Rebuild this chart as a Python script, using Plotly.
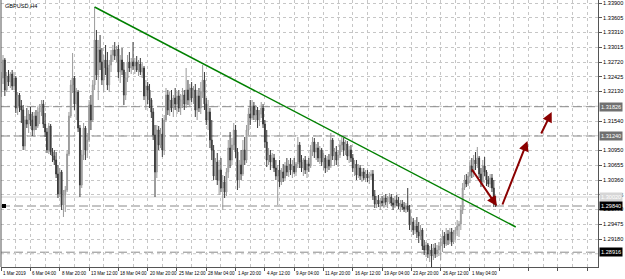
import pandas as pd
import plotly.graph_objects as go

SYMBOL = "GBPUSD,H4"

OPEN = [
 1.3212, 1.3240, 1.3276, 1.3216, 1.3244, 1.3232, 1.3248, 1.3224, 1.3240, 1.3180,
 1.3206, 1.3184, 1.3176, 1.3104, 1.3156, 1.3148, 1.3168, 1.3156, 1.3136, 1.3164,
 1.3144, 1.3172, 1.3180, 1.3188, 1.3148, 1.3132, 1.3096, 1.3144, 1.3092, 1.3084,
 1.3076, 1.3048, 1.3008, 1.3052, 1.2986, 1.3006, 1.3016, 1.3088, 1.3164, 1.3226,
 1.3240, 1.3188, 1.3212, 1.3140, 1.3026, 1.3086, 1.3140, 1.3096, 1.3116, 1.3186,
 1.3156, 1.3226, 1.3316, 1.3246, 1.3296, 1.3272, 1.3236, 1.3276, 1.3260, 1.3226,
 1.3266, 1.3286, 1.3296, 1.3284, 1.3298, 1.3252, 1.3276, 1.3256, 1.3206, 1.3240,
 1.3272, 1.3260, 1.3272, 1.3264, 1.3272, 1.3256, 1.3268, 1.3252, 1.3260, 1.3204,
 1.3224, 1.3216, 1.3196, 1.3172, 1.3126, 1.3052, 1.3136, 1.3106, 1.3128, 1.3096,
 1.3156, 1.3206, 1.3176, 1.3196, 1.3180, 1.3200, 1.3188, 1.3204, 1.3180, 1.3196,
 1.3206, 1.3188, 1.3216, 1.3196, 1.3220, 1.3200, 1.3216, 1.3176, 1.3204, 1.3180,
 1.3212, 1.3236, 1.3188, 1.3156, 1.3172, 1.3116, 1.3096, 1.3044, 1.3072, 1.3036,
 1.3056, 1.3020, 1.3032, 1.3012, 1.3052, 1.3100, 1.3076, 1.3106, 1.3136, 1.3092,
 1.3036, 1.3066, 1.3048, 1.3096, 1.3076, 1.3136, 1.3168, 1.3160, 1.3184, 1.3166,
 1.3176, 1.3156, 1.3168, 1.3180, 1.3148, 1.3112, 1.3076, 1.3086, 1.3072, 1.3080,
 1.3060, 1.3044, 1.3056, 1.3032, 1.3052, 1.3040, 1.3064, 1.3052, 1.3068, 1.3056,
 1.3064, 1.3052, 1.3068, 1.3106, 1.3072, 1.3060, 1.3076, 1.3056, 1.3068, 1.3064,
 1.3096, 1.3112, 1.3092, 1.3100, 1.3080, 1.3096, 1.3072, 1.3080, 1.3060, 1.3076,
 1.3064, 1.3116, 1.3084, 1.3092, 1.3076, 1.3086, 1.3106, 1.3112, 1.3096, 1.3108,
 1.3084, 1.3096, 1.3080, 1.3060, 1.3068, 1.3046, 1.3060, 1.3044, 1.3052, 1.3040,
 1.3048, 1.3040, 1.3044, 1.3048, 1.3004, 1.2988, 1.2996, 1.2988, 1.2994, 1.2990,
 1.3000, 1.2992, 1.2998, 1.3002, 1.2990, 1.2986, 1.2996, 1.2990, 1.2984, 1.2988,
 1.2982, 1.2978, 1.2984, 1.2976, 1.2946, 1.2952, 1.2936, 1.2944, 1.2932, 1.2924,
 1.2936, 1.2904, 1.2896, 1.2906, 1.2888, 1.2896, 1.2884, 1.2900, 1.2888, 1.2896,
 1.2904, 1.2912, 1.2924, 1.2908, 1.2928, 1.2916, 1.2932, 1.2912, 1.2928, 1.2936,
 1.2944, 1.2948, 1.2976, 1.3020, 1.3036, 1.3028, 1.3044, 1.3064, 1.3052, 1.3076,
 1.3068, 1.3080, 1.3048, 1.3032, 1.3064, 1.3052, 1.3036, 1.3028, 1.3040, 1.3020, 1.2988,
]

HIGH = [
 1.3252, 1.3286, 1.3280, 1.3252, 1.3256, 1.3252, 1.3256, 1.3252, 1.3244, 1.3212,
 1.3210, 1.3196, 1.3186, 1.3164, 1.3180, 1.3176, 1.3182, 1.3172, 1.3172, 1.3176,
 1.3182, 1.3188, 1.3196, 1.3196, 1.3170, 1.3140, 1.3150, 1.3148, 1.3100, 1.3096,
 1.3092, 1.3066, 1.3060, 1.3056, 1.3016, 1.3024, 1.3096, 1.3172, 1.3236, 1.3290,
 1.3244, 1.3220, 1.3216, 1.3146, 1.3096, 1.3150, 1.3144, 1.3130, 1.3196, 1.3206,
 1.3236, 1.3382, 1.3336, 1.3316, 1.3326, 1.3300, 1.3286, 1.3306, 1.3292, 1.3276,
 1.3296, 1.3306, 1.3312, 1.3304, 1.3306, 1.3286, 1.3300, 1.3272, 1.3252, 1.3286,
 1.3292, 1.3280, 1.3312, 1.3280, 1.3284, 1.3276, 1.3280, 1.3272, 1.3264, 1.3236,
 1.3232, 1.3228, 1.3200, 1.3180, 1.3146, 1.3146, 1.3144, 1.3140, 1.3160, 1.3166,
 1.3220, 1.3216, 1.3212, 1.3216, 1.3206, 1.3220, 1.3212, 1.3216, 1.3208, 1.3220,
 1.3216, 1.3260, 1.3236, 1.3228, 1.3232, 1.3224, 1.3228, 1.3216, 1.3220, 1.3232,
 1.3266, 1.3252, 1.3200, 1.3196, 1.3180, 1.3156, 1.3106, 1.3080, 1.3090, 1.3076,
 1.3080, 1.3046, 1.3044, 1.3060, 1.3116, 1.3132, 1.3120, 1.3150, 1.3146, 1.3100,
 1.3076, 1.3096, 1.3116, 1.3122, 1.3146, 1.3180, 1.3196, 1.3196, 1.3192, 1.3186,
 1.3182, 1.3176, 1.3192, 1.3188, 1.3156, 1.3136, 1.3100, 1.3096, 1.3090, 1.3088,
 1.3076, 1.3066, 1.3076, 1.3060, 1.3068, 1.3072, 1.3080, 1.3076, 1.3080, 1.3076,
 1.3080, 1.3072, 1.3122, 1.3112, 1.3086, 1.3080, 1.3084, 1.3076, 1.3080, 1.3106,
 1.3122, 1.3120, 1.3108, 1.3112, 1.3104, 1.3100, 1.3090, 1.3086, 1.3084, 1.3088,
 1.3130, 1.3120, 1.3100, 1.3104, 1.3096, 1.3116, 1.3122, 1.3120, 1.3116, 1.3114,
 1.3104, 1.3106, 1.3088, 1.3076, 1.3076, 1.3068, 1.3066, 1.3060, 1.3060, 1.3056,
 1.3056, 1.3052, 1.3056, 1.3056, 1.3016, 1.3004, 1.3006, 1.3000, 1.3004, 1.3006,
 1.3008, 1.3004, 1.3010, 1.3008, 1.3000, 1.3004, 1.3006, 1.3002, 1.2996, 1.2996,
 1.2992, 1.2990, 1.3020, 1.2986, 1.2962, 1.2960, 1.2956, 1.2962, 1.2952, 1.2946,
 1.2940, 1.2916, 1.2912, 1.2910, 1.2904, 1.2908, 1.2908, 1.2910, 1.2906, 1.2912,
 1.2920, 1.2936, 1.2932, 1.2940, 1.2936, 1.2940, 1.2940, 1.2936, 1.2942, 1.2956,
 1.2954, 1.2986, 1.3030, 1.3046, 1.3048, 1.3052, 1.3076, 1.3080, 1.3086, 1.3092,
 1.3102, 1.3084, 1.3060, 1.3076, 1.3082, 1.3056, 1.3044, 1.3048, 1.3048, 1.3036, 1.3004,
]

LOW = [
 1.3202, 1.3228, 1.3204, 1.3212, 1.3224, 1.3220, 1.3216, 1.3216, 1.3170, 1.3166,
 1.3172, 1.3150, 1.3096, 1.3096, 1.3140, 1.3130, 1.3144, 1.3124, 1.3122, 1.3136,
 1.3140, 1.3148, 1.3164, 1.3140, 1.3122, 1.3090, 1.3088, 1.3086, 1.3072, 1.3066,
 1.3040, 1.3000, 1.3002, 1.2976, 1.2962, 1.2972, 1.3012, 1.3084, 1.3160, 1.3210,
 1.3176, 1.3156, 1.3132, 1.3002, 1.3020, 1.3076, 1.3076, 1.3080, 1.3112, 1.3136,
 1.3152, 1.3216, 1.3236, 1.3196, 1.3256, 1.3226, 1.3212, 1.3246, 1.3216, 1.3212,
 1.3252, 1.3272, 1.3276, 1.3272, 1.3240, 1.3230, 1.3246, 1.3186, 1.3196, 1.3232,
 1.3252, 1.3248, 1.3256, 1.3248, 1.3252, 1.3244, 1.3246, 1.3240, 1.3196, 1.3176,
 1.3188, 1.3180, 1.3160, 1.3116, 1.3002, 1.3040, 1.3096, 1.3100, 1.3082, 1.3086,
 1.3152, 1.3166, 1.3164, 1.3172, 1.3162, 1.3176, 1.3168, 1.3172, 1.3166, 1.3180,
 1.3176, 1.3180, 1.3186, 1.3184, 1.3192, 1.3188, 1.3162, 1.3156, 1.3172, 1.3168,
 1.3200, 1.3176, 1.3146, 1.3136, 1.3100, 1.3076, 1.3036, 1.3036, 1.3026, 1.3006,
 1.3012, 1.2976, 1.3000, 1.3004, 1.3040, 1.3060, 1.3066, 1.3096, 1.3080, 1.3016,
 1.3020, 1.3036, 1.3044, 1.3066, 1.3070, 1.3126, 1.3146, 1.3156, 1.3156, 1.3152,
 1.3140, 1.3144, 1.3160, 1.3140, 1.3100, 1.3062, 1.3066, 1.3056, 1.3060, 1.3052,
 1.3036, 1.2986, 1.3022, 1.3026, 1.3032, 1.3036, 1.3044, 1.3042, 1.3046, 1.3040,
 1.3048, 1.3044, 1.3060, 1.3060, 1.3052, 1.3044, 1.3048, 1.3040, 1.3052, 1.3060,
 1.3084, 1.3080, 1.3076, 1.3072, 1.3068, 1.3064, 1.3056, 1.3050, 1.3052, 1.3056,
 1.3060, 1.3076, 1.3064, 1.3066, 1.3062, 1.3080, 1.3092, 1.3084, 1.3086, 1.3076,
 1.3070, 1.3072, 1.3052, 1.3044, 1.3036, 1.3040, 1.3036, 1.3032, 1.3036, 1.3032,
 1.3032, 1.3028, 1.3036, 1.2996, 1.2980, 1.2980, 1.2982, 1.2976, 1.2984, 1.2980,
 1.2986, 1.2980, 1.2988, 1.2984, 1.2976, 1.2980, 1.2984, 1.2978, 1.2972, 1.2976,
 1.2972, 1.2970, 1.2972, 1.2936, 1.2932, 1.2926, 1.2928, 1.2920, 1.2910, 1.2916,
 1.2896, 1.2886, 1.2882, 1.2880, 1.2872, 1.2862, 1.2876, 1.2880, 1.2882, 1.2884,
 1.2876, 1.2892, 1.2900, 1.2904, 1.2906, 1.2908, 1.2904, 1.2908, 1.2916, 1.2924,
 1.2922, 1.2936, 1.2968, 1.3016, 1.3022, 1.3024, 1.3030, 1.3040, 1.3042, 1.3056,
 1.3060, 1.3040, 1.3022, 1.3028, 1.3044, 1.3024, 1.3022, 1.3020, 1.3012, 1.2982, 1.2982,
]

CLOSE = [
 1.3240, 1.3276, 1.3216, 1.3244, 1.3232, 1.3248, 1.3224, 1.3240, 1.3180, 1.3206,
 1.3184, 1.3176, 1.3104, 1.3156, 1.3148, 1.3168, 1.3156, 1.3136, 1.3164, 1.3144,
 1.3172, 1.3180, 1.3188, 1.3148, 1.3132, 1.3096, 1.3144, 1.3092, 1.3084, 1.3076,
 1.3048, 1.3008, 1.3052, 1.2986, 1.3006, 1.3016, 1.3088, 1.3164, 1.3226, 1.3240,
 1.3188, 1.3212, 1.3140, 1.3026, 1.3086, 1.3140, 1.3096, 1.3116, 1.3186, 1.3156,
 1.3226, 1.3316, 1.3246, 1.3296, 1.3272, 1.3236, 1.3276, 1.3260, 1.3226, 1.3266,
 1.3286, 1.3296, 1.3284, 1.3298, 1.3252, 1.3276, 1.3256, 1.3206, 1.3240, 1.3272,
 1.3260, 1.3272, 1.3264, 1.3272, 1.3256, 1.3268, 1.3252, 1.3260, 1.3204, 1.3224,
 1.3216, 1.3196, 1.3172, 1.3126, 1.3052, 1.3136, 1.3106, 1.3128, 1.3096, 1.3156,
 1.3206, 1.3176, 1.3196, 1.3180, 1.3200, 1.3188, 1.3204, 1.3180, 1.3196, 1.3206,
 1.3188, 1.3216, 1.3196, 1.3220, 1.3200, 1.3216, 1.3176, 1.3204, 1.3180, 1.3212,
 1.3236, 1.3188, 1.3156, 1.3172, 1.3116, 1.3096, 1.3044, 1.3072, 1.3036, 1.3056,
 1.3020, 1.3032, 1.3012, 1.3052, 1.3100, 1.3076, 1.3106, 1.3136, 1.3092, 1.3036,
 1.3066, 1.3048, 1.3096, 1.3076, 1.3136, 1.3168, 1.3160, 1.3184, 1.3166, 1.3176,
 1.3156, 1.3168, 1.3180, 1.3148, 1.3112, 1.3076, 1.3086, 1.3072, 1.3080, 1.3060,
 1.3044, 1.3056, 1.3032, 1.3052, 1.3040, 1.3064, 1.3052, 1.3068, 1.3056, 1.3064,
 1.3052, 1.3068, 1.3106, 1.3072, 1.3060, 1.3076, 1.3056, 1.3068, 1.3064, 1.3096,
 1.3112, 1.3092, 1.3100, 1.3080, 1.3096, 1.3072, 1.3080, 1.3060, 1.3076, 1.3064,
 1.3116, 1.3084, 1.3092, 1.3076, 1.3086, 1.3106, 1.3112, 1.3096, 1.3108, 1.3084,
 1.3096, 1.3080, 1.3060, 1.3068, 1.3046, 1.3060, 1.3044, 1.3052, 1.3040, 1.3048,
 1.3040, 1.3044, 1.3048, 1.3004, 1.2988, 1.2996, 1.2988, 1.2994, 1.2990, 1.3000,
 1.2992, 1.2998, 1.3002, 1.2990, 1.2986, 1.2996, 1.2990, 1.2984, 1.2988, 1.2982,
 1.2978, 1.2984, 1.2976, 1.2946, 1.2952, 1.2936, 1.2944, 1.2932, 1.2924, 1.2936,
 1.2904, 1.2896, 1.2906, 1.2888, 1.2896, 1.2884, 1.2900, 1.2888, 1.2896, 1.2904,
 1.2912, 1.2924, 1.2908, 1.2928, 1.2916, 1.2932, 1.2912, 1.2928, 1.2936, 1.2944,
 1.2948, 1.2976, 1.3020, 1.3036, 1.3028, 1.3044, 1.3064, 1.3052, 1.3076, 1.3068,
 1.3080, 1.3048, 1.3032, 1.3064, 1.3052, 1.3036, 1.3028, 1.3040, 1.3020, 1.2988, 1.2986,
]

TICK_TIMES = [
    "2019-03-01 12:00", "2019-03-06 04:00", "2019-03-08 20:00", "2019-03-13 12:00",
    "2019-03-18 04:00", "2019-03-20 20:00", "2019-03-25 12:00", "2019-03-28 04:00",
    "2019-04-01 20:00", "2019-04-04 12:00", "2019-04-09 04:00", "2019-04-11 20:00",
    "2019-04-16 12:00", "2019-04-19 04:00", "2019-04-23 20:00", "2019-04-26 12:00",
    "2019-05-01 04:00",
]
TICK_LABELS = [
    "1 Mar 2019", "6 Mar 04:00", "8 Mar 20:00", "13 Mar 12:00", "18 Mar 04:00",
    "20 Mar 20:00", "25 Mar 12:00", "28 Mar 04:00", "1 Apr 20:00", "4 Apr 12:00",
    "9 Apr 04:00", "11 Apr 20:00", "16 Apr 12:00", "19 Apr 04:00", "23 Apr 20:00",
    "26 Apr 12:00", "1 May 04:00",
]

# price scale labels: top value and step
PRICE_TOP = 1.33900
PRICE_STEP = 0.00295
PRICE_COUNT = 18

# horizontal levels drawn on the chart and their price-label colours
LEVELS = [1.31826, 1.31240, 1.29840, 1.28916]
LEVEL_BG = ["#707070", "#707070", "#000000", "#000000"]
ASK_LEVEL = 1.30020

# trend line end (bar number, price); start is the highest high
TREND_END = (281, 1.2942)
# hand-drawn arrows: (from bar, from price, to bar, to price)
ARROWS = [
    (256.5, 1.3060, 270.7, 1.2984),
    (273.4, 1.2984, 287.4, 1.3114),
    (294.5, 1.3126, 300.6, 1.3172),
]

n = len(CLOSE)
assert len(OPEN) == len(HIGH) == len(LOW) == n

times = pd.date_range("2019-03-01 12:00", "2019-07-01", freq="4h")
times = times[times.weekday < 5][:n]
pos = {t: i for i, t in enumerate(times.strftime("%Y-%m-%d %H:%M"))}
tick_idx = [pos[t] for t in TICK_TIMES]

price_ticks = [round(PRICE_TOP - k * PRICE_STEP, 5) for k in range(PRICE_COUNT)]
# tick labels fully hidden behind the level boxes are not drawn
shown_ticks = [v for v in price_ticks if min(abs(v - L) for L in LEVELS) > 0.0004]

FONT = "Liberation Sans, Arial, sans-serif"
GRID = "#c6c6c6"
FS = 5.6

fig = go.Figure(go.Candlestick(
    x=list(range(n)), open=OPEN, high=HIGH, low=LOW, close=CLOSE,
    increasing=dict(line=dict(color="#9a9a9a", width=1), fillcolor="#c2c2c2"),
    decreasing=dict(line=dict(color="#3a3a3a", width=1), fillcolor="#3a3a3a"),
    whiskerwidth=0, hoverinfo="skip",
))

shapes = []
# grid lines at hidden ticks too
for v in price_ticks:
    if v not in shown_ticks:
        shapes.append(dict(type="line", xref="paper", x0=0, x1=1, yref="y", y0=v, y1=v,
                           line=dict(color=GRID, width=1, dash="dot"), layer="below"))
for v in LEVELS:
    shapes.append(dict(type="line", xref="paper", x0=0, x1=1, yref="y", y0=v, y1=v,
                       line=dict(color="#8a8a8a", width=1, dash="9px,4px"), layer="below"))
shapes.append(dict(type="line", xref="paper", x0=0, x1=1, yref="y", y0=ASK_LEVEL, y1=ASK_LEVEL,
                   line=dict(color="#d2d2d2", width=1), layer="below"))
# left border
shapes.append(dict(type="line", xref="paper", x0=0, x1=0, yref="paper", y0=0, y1=1,
                   line=dict(color="#555555", width=1)))
# small black marker at the left for the current level
shapes.append(dict(type="rect", xref="paper", xsizemode="pixel", xanchor=0, x0=1, x1=5,
                   yref="y", ysizemode="pixel", yanchor=LEVELS[2], y0=-2, y1=2,
                   fillcolor="#000000", line=dict(width=0)))
# trend line from the highest high
peak = max(range(n), key=lambda i: HIGH[i])
shapes.append(dict(type="line", xref="x", yref="y", x0=peak, y0=HIGH[peak],
                   x1=TREND_END[0], y1=TREND_END[1],
                   line=dict(color="#008000", width=1.5)))

ann = []
ann.append(dict(xref="paper", x=1, xanchor="left", xshift=1, yref="y", y=ASK_LEVEL,
                text=f"{ASK_LEVEL:.5f}", showarrow=False, bgcolor="#d6d6d6", borderpad=1,
                font=dict(family=FONT, size=FS, color="#ffffff")))
for v, bg in zip(LEVELS, LEVEL_BG):
    ann.append(dict(xref="paper", x=1, xanchor="left", xshift=1, yref="y", y=v,
                    text=f"{v:.5f}", showarrow=False, bgcolor=bg, borderpad=1,
                    font=dict(family=FONT, size=FS, color="#ffffff")))
for ti, lab in zip(tick_idx, TICK_LABELS):
    ann.append(dict(xref="x", x=ti, yref="paper", y=0, xanchor="left", yanchor="top",
                    yshift=-2, xshift=0, text=lab, showarrow=False,
                    font=dict(family=FONT, size=4.5, color="#000000")))
ann.append(dict(xref="paper", x=0, yref="paper", y=1, xanchor="left", yanchor="top",
                xshift=2, yshift=-1, text=SYMBOL, showarrow=False,
                font=dict(family=FONT, size=FS, color="#000000")))
for x0, y0, x1, y1 in ARROWS:
    ann.append(dict(x=x1, y=y1, ax=x0, ay=y0, xref="x", yref="y", axref="x", ayref="y",
                    text="", showarrow=True, arrowhead=2, arrowsize=1, arrowwidth=2,
                    arrowcolor="#8b0000", standoff=0, startstandoff=0))

fig.update_layout(
    width=625, height=279,
    margin=dict(l=1, r=27, t=0, b=12),
    paper_bgcolor="#ffffff", plot_bgcolor="#ffffff",
    showlegend=False,
    font=dict(family=FONT, size=FS, color="#000000"),
    shapes=shapes, annotations=ann,
    xaxis=dict(
        range=[-0.1, 325.9], tickmode="linear", tick0=0, dtick=16,
        showticklabels=False, ticks="outside", ticklen=3, tickcolor="#555555",
        showgrid=True, gridcolor=GRID, griddash="dot", gridwidth=1,
        minor=dict(tick0=0, dtick=8, showgrid=True, gridcolor=GRID, griddash="dot", ticks=""),
        showline=True, linecolor="#555555", linewidth=1, zeroline=False,
        rangeslider=dict(visible=False), fixedrange=True,
    ),
    yaxis=dict(
        side="right", range=[1.2862, 1.3396], tickmode="array", tickvals=shown_ticks,
        ticktext=[f"{v:.5f}" for v in shown_ticks], ticklabeloverflow="allow",
        ticks="outside", ticklen=3, tickcolor="#555555",
        tickfont=dict(family=FONT, size=FS, color="#000000"),
        showgrid=True, gridcolor=GRID, griddash="dot", gridwidth=1,
        showline=True, linecolor="#555555", linewidth=1, zeroline=False, fixedrange=True,
    ),
)

fig.write_html("out.html")
